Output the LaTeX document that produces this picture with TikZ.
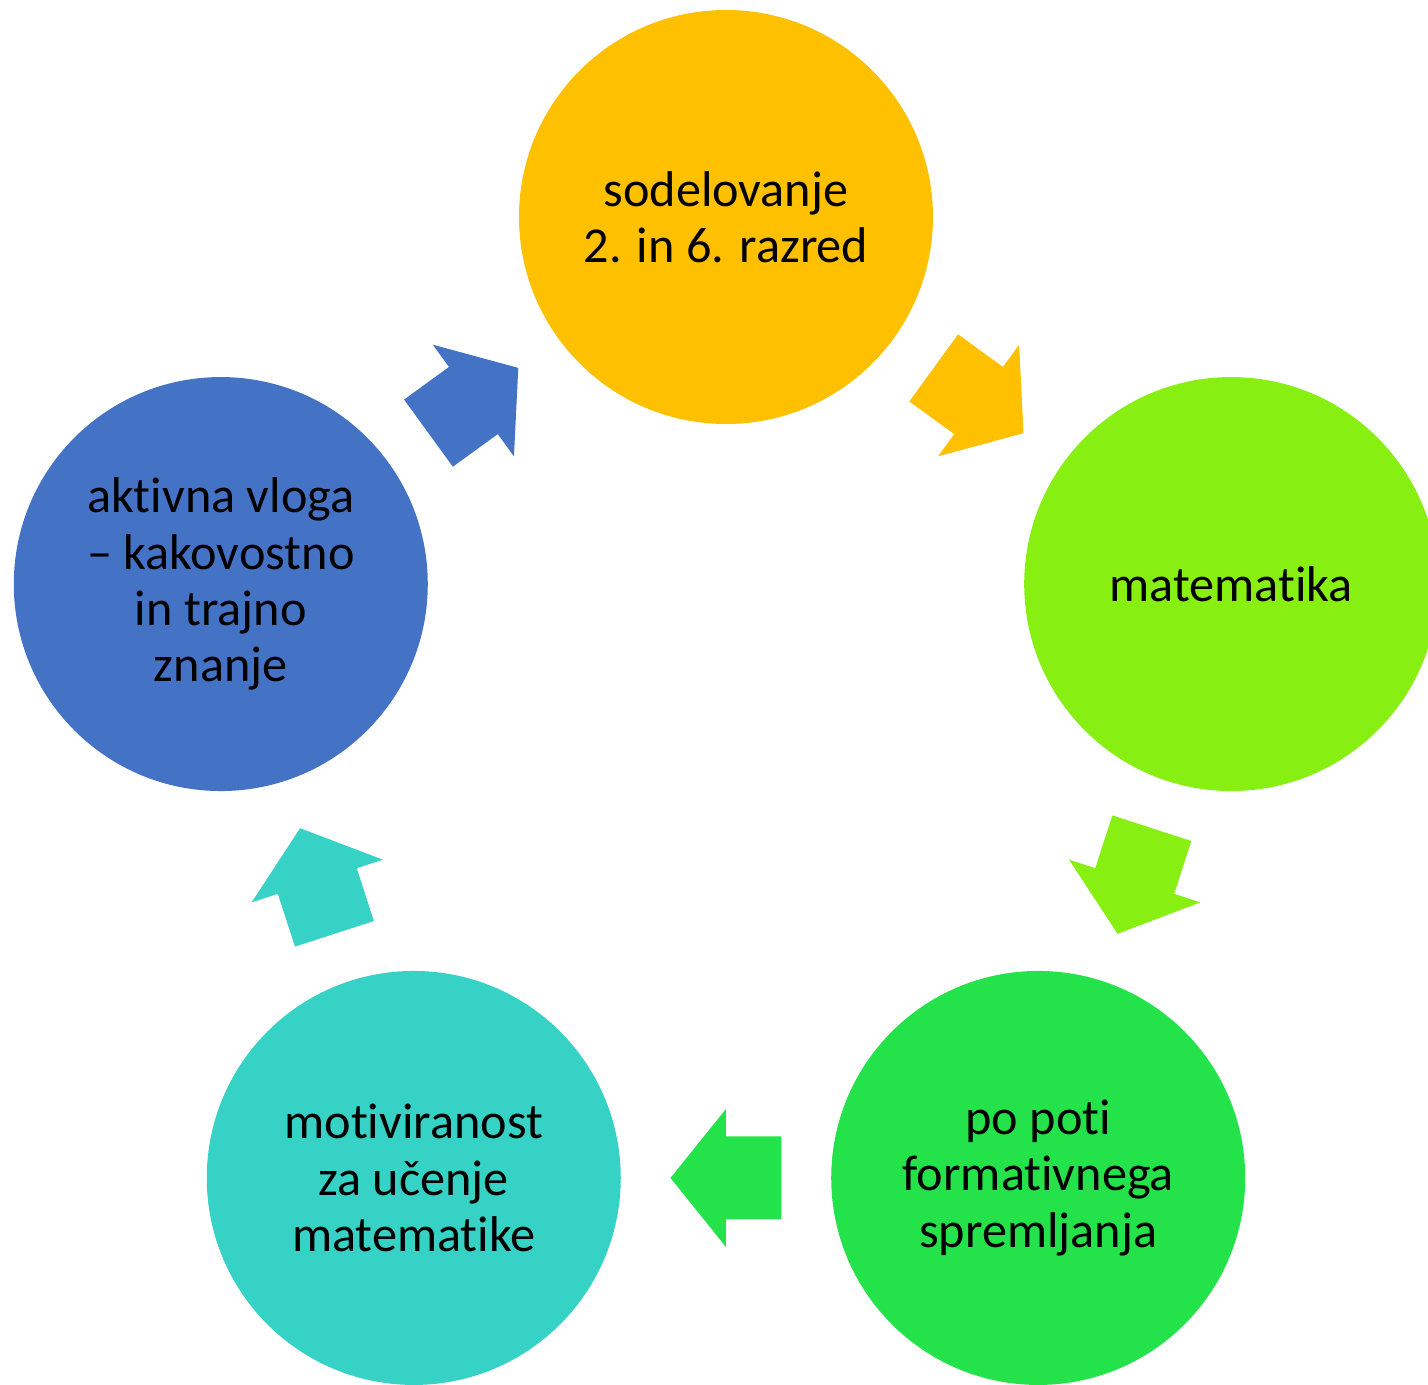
\documentclass[tikz,border=0pt]{standalone}
\usepackage{fontspec}
\setmainfont{Carlito}[Ligatures=NoCommon]
\usepackage{tikz}
\usetikzlibrary{positioning,calc}

\definecolor{rumena}{HTML}{FFC000}
\definecolor{limeta}{HTML}{88EF13}
\definecolor{zelena}{HTML}{23E24A}
\definecolor{turkizna}{HTML}{35D2C5}
\definecolor{modra}{HTML}{4472C4}

\tikzset{
  krog/.style={circle,minimum size=4.14cm,inner sep=0pt,align=center,
    font=\fontsize{14.3}{16}\selectfont},
  puscica/.pic={\fill (-0.555,-0.415) -- (0,-0.415) -- (0,-0.69) -- (0.555,0)
    -- (0,0.69) -- (0,0.415) -- (-0.555,0.415) -- cycle;}
}

\begin{document}
\begin{tikzpicture}
                \clip (-7.26,-6.368) rectangle (7.02,7.482);
                \node[krog,fill=rumena](a) at (90:5.312){sodelovanje\\2. in 6. razred};
                \node[krog,fill=limeta](b) at (18:5.312){matematika};
                \node[krog,fill=zelena](c) at (-54:5.312){po poti\\formativnega\\spremljanja};
                \node[krog,fill=turkizna](d) at (-126:5.312){motiviranost\\za učenje\\matematike};
                \node[krog,fill=modra](e) at (162:5.312){aktivna vloga\\– kakovostno\\in trajno\\znanje};
                \pic[fill=rumena,rotate=-36] at ($(a)!0.5!(b)$) {puscica};
                \pic[fill=limeta,rotate=-108] at ($(b)!0.5!(c)$) {puscica};
                \pic[fill=zelena,rotate=180] at ($(c)!0.5!(d)$) {puscica};
                \pic[fill=turkizna,rotate=108] at ($(d)!0.5!(e)$) {puscica};
                \pic[fill=modra,rotate=36] at ($(e)!0.5!(a)$) {puscica};
            \end{tikzpicture}
\end{document}
